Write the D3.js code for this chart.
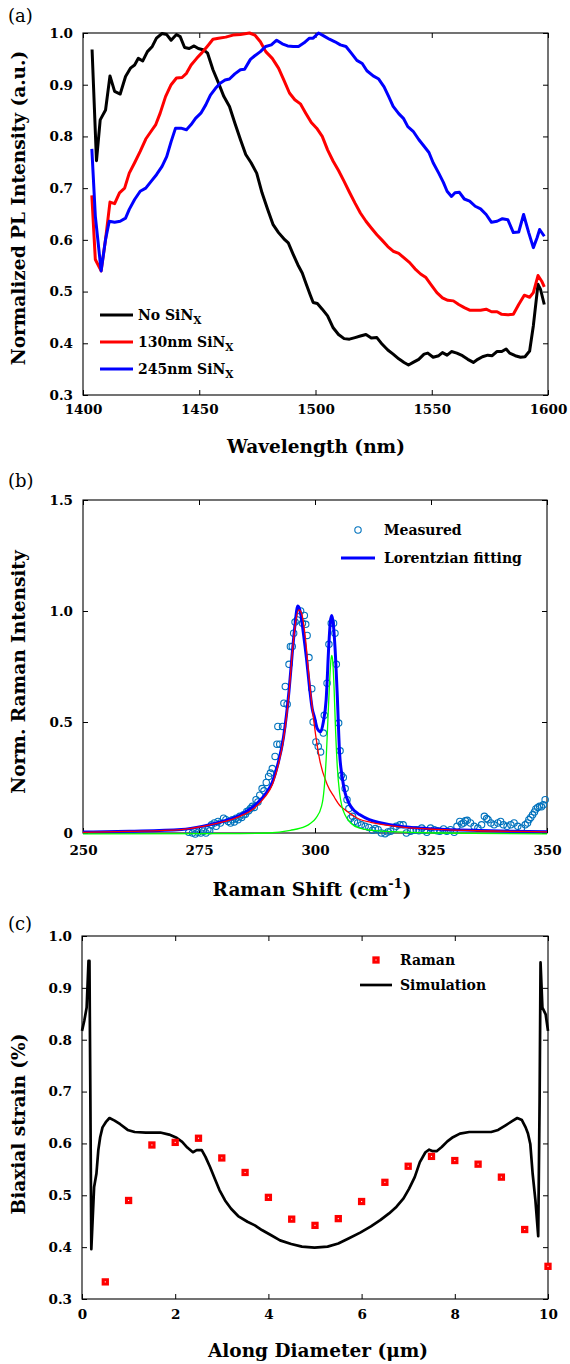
<!DOCTYPE html>
<html><head><meta charset="utf-8">
<script src="https://cdn.jsdelivr.net/npm/d3@7"></script>
<style>
body{margin:0;background:#fff}
svg{display:block}
text{font-family:"DejaVu Serif",serif;fill:#000}
</style>
</head><body>
<svg id="chart" width="570" height="1364"></svg>
<script>
// ---------- Panel (a) data ----------
const plSeriesNames = ["No SiN", "130nm SiN", "245nm SiN"];
const plColors = ["#000000", "#ff0000", "#0000ff"];
const plTicksX = [1400, 1450, 1500, 1550, 1600];
const plTicksY = [0.3, 0.4, 0.5, 0.6, 0.7, 0.8, 0.9, 1.0];
const wlNo = [1403.9,1405.8,1407.4,1409.7,1411.6,1413.6,1416,1418.3,1420.4,1422.2,1423.8,1425.7,1427.7,1429.8,1431.6,1434,1436,1437.9,1440.2,1441.8,1443.7,1445.7,1447.8,1449.6,1452,1453.6,1455.9,1458.3,1460.6,1463,1465.3,1467.7,1470,1472.3,1474.7,1477,1479.4,1481.7,1484.1,1486.4,1488.3,1490.4,1492.4,1494.3,1495.8,1497.7,1499,1500.8,1502.9,1505.2,1507.6,1509.9,1512.3,1514.6,1517,1519.3,1521.7,1524,1526.4,1528.7,1531.1,1533.4,1535.8,1538.1,1540,1542,1544.4,1546.7,1548.3,1550.6,1553,1554.6,1556.6,1558.5,1560.8,1563.2,1565.5,1567.9,1569.8,1571.8,1574.1,1576,1578,1580.1,1582,1583.5,1585.9,1588.2,1590.1,1592.1,1593.7,1595.7,1596.8,1598.4];
const plNo = [0.968,0.753,0.832,0.851,0.917,0.887,0.882,0.916,0.932,0.938,0.951,0.946,0.964,0.974,0.99,0.999,0.997,0.986,0.997,0.993,0.972,0.970,0.975,0.970,0.967,0.961,0.929,0.903,0.877,0.858,0.826,0.794,0.765,0.749,0.729,0.691,0.659,0.630,0.614,0.602,0.594,0.572,0.552,0.536,0.517,0.494,0.479,0.477,0.466,0.453,0.430,0.417,0.409,0.408,0.411,0.414,0.417,0.410,0.411,0.398,0.387,0.379,0.370,0.363,0.358,0.363,0.369,0.379,0.381,0.373,0.376,0.382,0.377,0.384,0.381,0.376,0.369,0.363,0.369,0.374,0.377,0.376,0.384,0.384,0.389,0.381,0.376,0.373,0.374,0.385,0.434,0.514,0.504,0.475];
const wl130 = [1403.8,1405.3,1407.8,1409.7,1411.6,1413.6,1415.7,1417.9,1419.9,1422.2,1424.6,1427,1429.3,1431.3,1433.2,1435.5,1437.9,1440.2,1442.6,1444.5,1446.5,1448.9,1451.2,1453.6,1455.9,1458.3,1461.4,1464.5,1467.7,1471.6,1473.9,1476.3,1478.6,1481.4,1484.1,1486.4,1488.8,1491.1,1493.5,1495.8,1498.2,1500.5,1502.9,1505.2,1507.6,1509.9,1512.3,1514.6,1517,1519.3,1521.7,1524,1526.4,1528.7,1531.1,1533.4,1535.8,1538.1,1540.5,1542.8,1545.2,1547.5,1549.9,1552.2,1554.6,1556.9,1559.3,1561.6,1564,1566.3,1568.7,1571,1573.4,1575.7,1578.1,1580.1,1582.7,1585.1,1587.4,1589.8,1592.1,1593.7,1595.7,1597.3,1598.4];
const pl130 = [0.686,0.562,0.540,0.601,0.673,0.670,0.691,0.700,0.729,0.749,0.771,0.795,0.810,0.823,0.845,0.877,0.900,0.913,0.914,0.922,0.938,0.951,0.962,0.975,0.988,0.990,0.992,0.996,0.997,1.0,0.996,0.983,0.964,0.951,0.932,0.909,0.884,0.871,0.863,0.845,0.827,0.816,0.800,0.774,0.752,0.734,0.713,0.692,0.671,0.652,0.636,0.623,0.610,0.599,0.587,0.578,0.574,0.565,0.556,0.544,0.534,0.527,0.512,0.498,0.488,0.483,0.482,0.475,0.469,0.464,0.464,0.464,0.466,0.461,0.461,0.456,0.455,0.456,0.475,0.493,0.489,0.498,0.531,0.520,0.509];
const wl245 = [1403.8,1405.3,1407.8,1409.7,1411.3,1413.6,1416,1418.3,1419.9,1422.2,1424.6,1427,1429.3,1431.6,1434,1436,1437.9,1439.8,1442.1,1444.5,1446.5,1448.4,1450.7,1452.8,1454.8,1457,1459,1461.1,1463,1465.3,1467.7,1469.5,1472,1473.9,1476.3,1478.6,1481,1483.3,1485.7,1488,1490.4,1492.7,1495.1,1497.4,1499,1501.3,1503.7,1506,1508.4,1510.7,1513.1,1515.4,1517.8,1520.1,1522.1,1524.8,1527.2,1529.5,1531.5,1533.4,1535.8,1537.8,1539.7,1542,1544.4,1546.7,1548.8,1550.6,1553,1555,1556.6,1558.5,1560,1561.9,1564,1566.3,1568.7,1571,1573.4,1575.7,1578.1,1580.4,1582.7,1585.1,1587.4,1589.5,1591.7,1593.7,1595.3,1596.4,1598.4];
const pl245 = [0.776,0.646,0.540,0.601,0.636,0.634,0.636,0.642,0.659,0.678,0.694,0.700,0.713,0.726,0.742,0.761,0.790,0.816,0.816,0.813,0.823,0.835,0.845,0.861,0.880,0.893,0.903,0.909,0.911,0.921,0.929,0.930,0.949,0.956,0.964,0.974,0.977,0.986,0.979,0.975,0.974,0.974,0.981,0.990,0.990,1.0,0.994,0.988,0.983,0.977,0.974,0.961,0.947,0.941,0.927,0.917,0.911,0.896,0.877,0.858,0.844,0.835,0.819,0.810,0.794,0.781,0.769,0.749,0.729,0.711,0.694,0.684,0.691,0.692,0.679,0.675,0.665,0.660,0.649,0.634,0.636,0.641,0.639,0.614,0.615,0.649,0.614,0.585,0.604,0.620,0.607];

// ---------- Panel (b) data ----------
const ramanTicksX = [250, 275, 300, 325, 350];
const ramanTicksY = [0, 0.5, 1.0, 1.5];
const measShift = [272.8,273.6,274.2,274.8,275.4,276,276.5,276.9,277.3,277.7,278.3,278.7,279.1,279.6,280.3,280.8,281.3,281.8,282.2,282.6,283,283.4,283.8,284.2,284.6,285,285.3,285.7,286.1,286.5,286.9,287.3,287.7,288.1,288.6,289,289.5,290,290.4,290.8,291.4,291.8,292,292.4,293,293.3,293.6,294,294.4,294.7,295.1,295.4,295.7,296.2,296.9,297.3,297.7,298,298.3,298.7,299.3,299.6,300.2,300.7,301.2,301.8,302,302.6,303,303.5,304,304.3,304.6,305.1,305.4,305.7,306.1,306.5,306.9,307.3,307.7,308.1,308.5,309.2,310,310.8,311.6,312.4,313,313.6,314.3,315.1,315.7,316.3,317,317.5,318.3,319,319.7,320.6,321.2,321.8,322.4,323,323.6,324.1,324.9,325.7,326.3,326.9,327.7,328.4,329.2,330,330.6,331.2,331.6,332,332.4,332.8,333.5,334.3,335.1,335.9,336.5,337,337.3,337.9,338.6,339.4,340,340.6,341.4,342.2,342.9,343.7,344.5,345.3,345.8,346.1,346.5,346.9,347.3,347.6,348,348.4,348.8,349.2,349.6];
const measInt = [0.003,0.0,-0.005,0.003,0.0,0.008,0.0,0.015,0.01,0.037,0.045,0.03,0.052,0.045,0.067,0.06,0.052,0.045,0.06,0.05,0.067,0.06,0.075,0.07,0.082,0.085,0.097,0.1,0.11,0.12,0.115,0.15,0.14,0.17,0.2,0.19,0.228,0.255,0.27,0.29,0.345,0.40,0.48,0.40,0.48,0.585,0.66,0.58,0.76,0.84,0.84,0.9,0.95,0.96,1.0,0.945,0.98,0.94,0.89,0.79,0.65,0.50,0.41,0.39,0.365,0.45,0.53,0.675,0.85,0.945,0.945,0.9,0.76,0.495,0.37,0.26,0.25,0.2,0.15,0.11,0.067,0.075,0.052,0.045,0.037,0.03,0.025,0.012,0.02,0.015,0.0,-0.003,0.005,0.008,0.02,0.03,0.037,0.037,0.0,0.008,0.012,0.015,0.01,0.022,0.012,0.003,0.022,0.015,0.01,0.008,0.018,0.008,0.015,0.003,0.03,0.052,0.04,0.045,0.055,0.057,0.045,0.03,0.022,0.037,0.075,0.065,0.06,0.045,0.037,0.045,0.052,0.037,0.03,0.037,0.045,0.03,0.022,0.037,0.045,0.06,0.07,0.082,0.095,0.108,0.115,0.12,0.118,0.127,0.15];
const fitShift = [250,260,271.2,275.9,280.6,283.8,286.9,289.3,290.8,292,293.2,294.4,295.1,295.7,296.3,296.9,297.5,298.2,298.8,299.4,299.9,300.5,301.2,301.8,302.4,303,303.3,303.6,303.9,304.3,304.8,305.3,305.8,306.5,307.1,307.7,308.5,309.6,311.7,314.3,318.3,322.2,329,334,342,350];
const fitInt = [0.004,0.008,0.016,0.031,0.055,0.08,0.122,0.175,0.228,0.31,0.43,0.64,0.81,0.94,1.022,0.99,0.9,0.78,0.66,0.56,0.52,0.47,0.456,0.5,0.6,0.855,0.95,0.98,0.95,0.84,0.62,0.36,0.26,0.18,0.145,0.12,0.1,0.083,0.06,0.045,0.03,0.022,0.015,0.012,0.008,0.006];
const redShift = [250,260,271.2,275.9,280.6,283.8,286.9,289.3,290.8,292,293.2,294.4,295.1,295.9,296.5,297.1,297.9,298.7,299.8,301,302.6,304.2,305.3,306.1,308.5,309.6,312,318.3,326.1,337.9,350];
const redInt = [0.003,0.007,0.015,0.03,0.052,0.075,0.112,0.165,0.217,0.30,0.42,0.63,0.81,0.96,1.005,0.99,0.885,0.705,0.495,0.33,0.22,0.16,0.125,0.11,0.075,0.062,0.048,0.028,0.016,0.009,0.005];
const greenShift = [250,280,290,294.7,297.9,298.8,300.2,301.4,301.7,302.2,302.4,302.8,303.1,303.4,303.6,303.8,304.1,304.4,304.8,305.3,305.8,306.4,307.7,309.6,314.3,326.1,350];
const greenInt = [-0.004,-0.003,0.0,0.012,0.03,0.04,0.067,0.12,0.15,0.26,0.33,0.52,0.66,0.77,0.80,0.78,0.66,0.48,0.3,0.18,0.12,0.085,0.045,0.022,0.008,0.0,-0.004];
const ramanLegend = ["Measured", "Lorentzian fitting"];

// ---------- Panel (c) data ----------
const diamTicksX = [0, 2, 4, 6, 8, 10];
const strainTicksY = [0.3, 0.4, 0.5, 0.6, 0.7, 0.8, 0.9, 1.0];
const ramanPos = [0.5,1.0,1.5,2.0,2.5,3.0,3.5,4.0,4.5,5.0,5.5,6.0,6.5,7.0,7.5,8.0,8.5,9.0,9.5,10.0];
const ramanStrain = [0.333,0.490,0.597,0.602,0.610,0.572,0.544,0.496,0.454,0.442,0.455,0.488,0.525,0.556,0.575,0.567,0.560,0.535,0.434,0.363];
const simPos = [0,0.05,0.1,0.14,0.16,0.18,0.2,0.26,0.31,0.35,0.39,0.44,0.51,0.59,0.70,0.82,0.98,1.13,1.37,1.68,1.87,2.03,2.15,2.26,2.38,2.46,2.57,2.65,2.75,2.85,2.95,3.07,3.2,3.35,3.55,3.71,3.86,4.06,4.25,4.49,4.72,4.99,5.27,5.5,5.73,5.97,6.2,6.4,6.59,6.75,6.9,7.02,7.14,7.25,7.37,7.45,7.53,7.61,7.72,7.84,7.96,8.11,8.31,8.54,8.78,8.93,9.09,9.23,9.34,9.44,9.52,9.57,9.62,9.67,9.73,9.79,9.82,9.84,9.88,9.95,10];
const simStrain = [0.817,0.837,0.862,0.952,0.952,0.683,0.396,0.516,0.542,0.587,0.612,0.631,0.641,0.649,0.644,0.637,0.626,0.622,0.621,0.621,0.617,0.611,0.603,0.592,0.583,0.587,0.587,0.574,0.554,0.532,0.510,0.490,0.474,0.460,0.449,0.442,0.433,0.423,0.413,0.406,0.401,0.399,0.401,0.407,0.417,0.428,0.440,0.452,0.465,0.478,0.494,0.513,0.535,0.564,0.583,0.588,0.585,0.585,0.593,0.604,0.612,0.619,0.622,0.622,0.622,0.626,0.635,0.643,0.649,0.645,0.631,0.619,0.599,0.542,0.490,0.421,0.683,0.949,0.862,0.849,0.817];
const strainLegend = ["Raman", "Simulation"];

// ---------- drawing ----------
const svg = d3.select("#chart");
const FONT = '"DejaVu Serif", serif';

function panel(cfg) {
  const g = svg.append("g");
  const x = d3.scaleLinear().domain(cfg.xd).range([cfg.x0, cfg.x1]);
  const y = d3.scaleLinear().domain(cfg.yd).range([cfg.y1, cfg.y0]);
  const tk = 5;
  const ax = (a) => a.tickSizeOuter(0);
  g.append("g").attr("transform", `translate(0,${cfg.y1})`)
    .call(ax(d3.axisBottom(x).tickValues(cfg.xt).tickSizeInner(-tk).tickPadding(cfg.xpad).tickFormat(cfg.xf)));
  g.append("g").attr("transform", `translate(0,${cfg.y0})`)
    .call(ax(d3.axisTop(x).tickValues(cfg.xt).tickSizeInner(-tk).tickFormat("")));
  g.append("g").attr("transform", `translate(${cfg.x0},0)`)
    .call(ax(d3.axisLeft(y).tickValues(cfg.yt).tickSizeInner(-tk).tickPadding(10).tickFormat(cfg.yf)));
  g.append("g").attr("transform", `translate(${cfg.x1},0)`)
    .call(ax(d3.axisRight(y).tickValues(cfg.yt).tickSizeInner(-tk).tickFormat("")));
  g.selectAll(".domain").remove();
  g.selectAll(".tick line").attr("stroke", "#000").attr("stroke-width", 1);
  g.selectAll(".tick text").attr("font-family", FONT).attr("font-weight", "bold").attr("font-size", 13.5).attr("fill", "#000");
  g.append("rect").attr("x", cfg.x0).attr("y", cfg.y0).attr("width", cfg.x1 - cfg.x0).attr("height", cfg.y1 - cfg.y0)
    .attr("fill", "none").attr("stroke", "#000").attr("stroke-width", 1.1);
  g.append("text").attr("x", 8).attr("y", cfg.labelY).attr("font-size", 18).text(cfg.label);
  return {g, x, y};
}

// ---- Panel (a)
{
  const {g, x, y} = panel({xd:[1400,1600], yd:[0.3,1.0], x0:83, x1:548, y0:33, y1:395,
    xt: plTicksX, yt: plTicksY, xf: d3.format("d"), yf: d3.format(".1f"), xpad: 9, label: "(a)", labelY: 22});
  const series = [[wlNo, plNo], [wl130, pl130], [wl245, pl245]];
  const line = d3.line().x(d => x(d[0])).y(d => y(d[1]));
  series.forEach((s, i) => {
    const pts = s[0].map((v, k) => [v, s[1][k]]);
    g.append("path").datum(pts).attr("d", line).attr("fill", "none")
      .attr("stroke", plColors[i]).attr("stroke-width", 3).attr("stroke-linejoin", "round");
  });
  plSeriesNames.forEach((n, i) => {
    const ly = 315 + i * 27;
    g.append("line").attr("x1", 100).attr("x2", 133).attr("y1", ly).attr("y2", ly)
      .attr("stroke", plColors[i]).attr("stroke-width", 3);
    const t = g.append("text").attr("x", 138).attr("y", ly + 4.5).attr("font-size", 14).attr("font-weight", "bold");
    t.append("tspan").text(n);
    t.append("tspan").attr("font-size", 10.5).attr("dy", 4.5).text("X");
  });
  g.append("text").attr("x", 316).attr("y", 453).attr("text-anchor", "middle")
    .attr("font-size", 18.5).attr("font-weight", "bold").text("Wavelength (nm)");
  g.append("text").attr("transform", "translate(25,208) rotate(-90)").attr("text-anchor", "middle")
    .attr("font-size", 18.5).attr("font-weight", "bold").text("Normalized PL Intensity (a.u.)");
}

// ---- Panel (b)
{
  const {g, x, y} = panel({xd:[250,350], yd:[0,1.5], x0:83, x1:547, y0:500, y1:833,
    xt: ramanTicksX, yt: ramanTicksY, xf: d3.format("d"), yf: d => d === 0 ? "0" : d3.format(".1f")(d), xpad: 12, label: "(b)", labelY: 487});
  const pts = measShift.map((v, k) => [v, measInt[k]]);
  g.append("g").selectAll("circle").data(pts).join("circle")
    .attr("cx", d => x(d[0])).attr("cy", d => y(d[1])).attr("r", 3.2)
    .attr("fill", "none").attr("stroke", "#0072BD").attr("stroke-width", 1.1);
  const line = d3.line().x(d => x(d[0])).y(d => y(d[1])).curve(d3.curveMonotoneX);
  g.append("path").datum(fitShift.map((v, k) => [v, fitInt[k]])).attr("d", line).attr("fill", "none")
    .attr("stroke", "#0000ff").attr("stroke-width", 3);
  g.append("path").datum(redShift.map((v, k) => [v, redInt[k]])).attr("d", line).attr("fill", "none")
    .attr("stroke", "#ff0000").attr("stroke-width", 1.3);
  g.append("path").datum(greenShift.map((v, k) => [v, greenInt[k]])).attr("d", line).attr("fill", "none")
    .attr("stroke", "#00ff00").attr("stroke-width", 1.3);
  g.append("circle").attr("cx", 358).attr("cy", 530).attr("r", 3.2).attr("fill", "none")
    .attr("stroke", "#0072BD").attr("stroke-width", 1.1);
  g.append("text").attr("x", 384).attr("y", 535).attr("font-size", 14).attr("font-weight", "bold").text(ramanLegend[0]);
  g.append("line").attr("x1", 341).attr("x2", 375).attr("y1", 558).attr("y2", 558).attr("stroke", "#0000ff").attr("stroke-width", 3);
  g.append("text").attr("x", 384).attr("y", 563).attr("font-size", 14).attr("font-weight", "bold").text(ramanLegend[1]);
  const t = g.append("text").attr("x", 312).attr("y", 896).attr("text-anchor", "middle")
    .attr("font-size", 18.5).attr("font-weight", "bold");
  t.append("tspan").text("Raman Shift (cm");
  t.append("tspan").attr("font-size", 13).attr("dy", -8).text("-1");
  t.append("tspan").attr("dy", 8).text(")");
  g.append("text").attr("transform", "translate(25,672) rotate(-90)").attr("text-anchor", "middle")
    .attr("font-size", 18.5).attr("font-weight", "bold").text("Norm. Raman Intensity");
}

// ---- Panel (c)
{
  const {g, x, y} = panel({xd:[0,10], yd:[0.3,1.0], x0:82, x1:548, y0:936, y1:1299,
    xt: diamTicksX, yt: strainTicksY, xf: d3.format("d"), yf: d3.format(".1f"), xpad: 10, label: "(c)", labelY: 930});
  const line = d3.line().x(d => x(d[0])).y(d => y(d[1]));
  g.append("path").datum(simPos.map((v, k) => [v, simStrain[k]])).attr("d", line).attr("fill", "none")
    .attr("stroke", "#000").attr("stroke-width", 2.7).attr("stroke-linejoin", "round");
  const sq = 4.2, sw = 3.1;
  g.append("g").selectAll("rect").data(ramanPos.map((v, k) => [v, ramanStrain[k]])).join("rect")
    .attr("x", d => x(d[0]) - sq / 2).attr("y", d => y(d[1]) - sq / 2).attr("width", sq).attr("height", sq)
    .attr("fill", "#fff").attr("stroke", "#ff0000").attr("stroke-width", sw);
  g.append("rect").attr("x", 376 - sq / 2).attr("y", 960 - sq / 2).attr("width", sq).attr("height", sq)
    .attr("fill", "#fff").attr("stroke", "#ff0000").attr("stroke-width", sw);
  g.append("text").attr("x", 400).attr("y", 965).attr("font-size", 14).attr("font-weight", "bold").text(strainLegend[0]);
  g.append("line").attr("x1", 360).attr("x2", 392).attr("y1", 985).attr("y2", 985).attr("stroke", "#000").attr("stroke-width", 2.7);
  g.append("text").attr("x", 400).attr("y", 990).attr("font-size", 14).attr("font-weight", "bold").text(strainLegend[1]);
  g.append("text").attr("x", 318).attr("y", 1357).attr("text-anchor", "middle")
    .attr("font-size", 18.5).attr("font-weight", "bold").text("Along Diameter (\u03bcm)");
  g.append("text").attr("transform", "translate(25,1124) rotate(-90)").attr("text-anchor", "middle")
    .attr("font-size", 18.5).attr("font-weight", "bold").text("Biaxial strain (%)");
}
</script>
</body></html>
